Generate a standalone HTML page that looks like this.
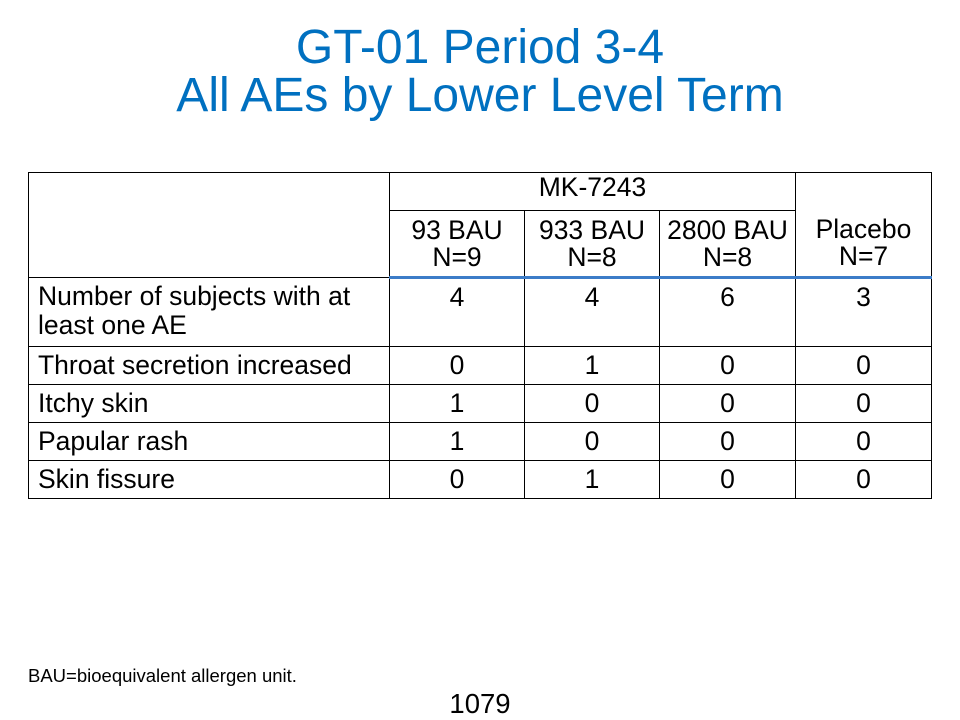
<!DOCTYPE html>
<html><head><meta charset="utf-8"><style>
body{margin:0;width:960px;height:720px;background:#fff;position:relative;overflow:hidden;font-family:"Liberation Sans",Arial,sans-serif;}
.t{position:absolute;left:0;width:960px;text-align:center;color:#0070C0;font-size:48px;line-height:48px;}
table{position:absolute;left:28px;top:172px;border-collapse:collapse;font-size:26.5px;color:#000;table-layout:fixed;}
td{border:1px solid #000;padding:0 4px;line-height:25px;text-align:center;vertical-align:top;box-sizing:border-box;white-space:nowrap;}
td.l{text-align:left;padding-left:9px;}
tr.hb td{border-bottom:3px solid #3C7CC8;}
</style></head><body>
<div class="t" style="top:24px">GT-01 Period 3-4</div>
<div class="t" style="top:72px">All AEs by Lower Level Term</div>
<table>
<colgroup><col style="width:361px"><col style="width:135px"><col style="width:135px"><col style="width:136px"><col style="width:136px"></colgroup>
<tr style="height:38px"><td rowspan="2"></td><td colspan="3" style="vertical-align:top;padding-top:2px">MK-7243</td><td rowspan="2" style="vertical-align:top;padding-top:43px;line-height:27px;border-bottom:3px solid #3C7CC8">Placebo<br>N=7</td></tr>
<tr class="hb" style="height:67px"><td style="vertical-align:middle;line-height:27px">93 BAU<br>N=9</td><td style="vertical-align:middle;line-height:27px">933 BAU<br>N=8</td><td style="vertical-align:middle;line-height:27px">2800 BAU<br>N=8</td></tr>
<tr style="height:69px"><td class="l" style="padding-top:4px;line-height:29px">Number of subjects with at<br>least one AE</td><td style="padding-top:4px;line-height:29px">4</td><td style="padding-top:4px;line-height:29px">4</td><td style="padding-top:4px;line-height:29px">6</td><td style="padding-top:4px;line-height:29px">3</td></tr>
<tr style="height:38px"><td class="l" style="vertical-align:middle">Throat secretion increased</td><td style="vertical-align:middle">0</td><td style="vertical-align:middle">1</td><td style="vertical-align:middle">0</td><td style="vertical-align:middle">0</td></tr>
<tr style="height:38px"><td class="l" style="vertical-align:middle">Itchy skin</td><td style="vertical-align:middle">1</td><td style="vertical-align:middle">0</td><td style="vertical-align:middle">0</td><td style="vertical-align:middle">0</td></tr>
<tr style="height:38px"><td class="l" style="vertical-align:middle">Papular rash</td><td style="vertical-align:middle">1</td><td style="vertical-align:middle">0</td><td style="vertical-align:middle">0</td><td style="vertical-align:middle">0</td></tr>
<tr style="height:38px"><td class="l" style="vertical-align:middle">Skin fissure</td><td style="vertical-align:middle">0</td><td style="vertical-align:middle">1</td><td style="vertical-align:middle">0</td><td style="vertical-align:middle">0</td></tr>
</table>
<div style="position:absolute;left:28px;top:665px;font-size:18.5px;color:#000">BAU=bioequivalent allergen unit.</div>
<div style="position:absolute;left:0;width:960px;text-align:center;top:688px;font-size:27.5px;color:#000">1079</div>
</body></html>
